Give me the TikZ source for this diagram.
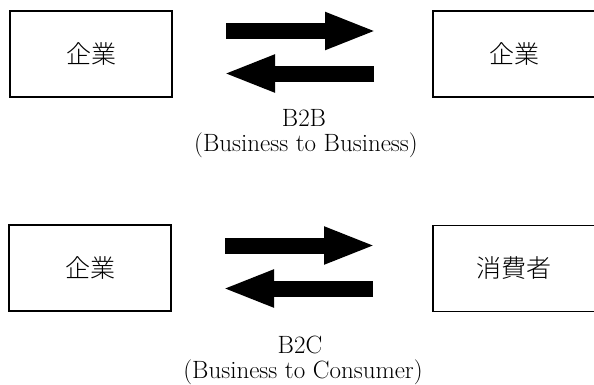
\documentclass[tikz,border=0pt]{standalone}
\usepackage{fontspec}
\newfontfamily\jp{Noto Sans CJK JP Light}
\usetikzlibrary{arrows.meta}
\tikzset{
  entity/.style={draw=black, line width=1.3pt, minimum width=162pt, minimum height=86pt, inner sep=0pt, font=\jp\fontsize{25}{29}\selectfont},
  bigarrow/.style={line width=16pt, -{Triangle[length=52pt,width=34pt]}},
  caption/.style={inner sep=0pt, font=\fontsize{25}{29}\selectfont}
}
\begin{document}
\begin{tikzpicture}[x=1pt,y=-1pt]
\useasboundingbox (0,0) rectangle (594,384);
% top row
\node[entity] (b1) at (91,54) {企業};
\node[entity] (b2) at (514,54) {企業};
\coordinate (t1s) at (226,31);
\coordinate (t1e) at (377,31);
\coordinate (t2s) at (374,73.5);
\coordinate (t2e) at (223,73.5);
\draw[bigarrow] (t1s) -- (t1e);
\draw[bigarrow] (t2s) -- (t2e);
\node[caption] (l1) at (304,118) {B2B};
\node[caption] (l2) at (306,145) {(Business to Business)};
% bottom row
\node[entity] (c1) at (90,268) {企業};
\node[entity] (c2) at (514,268.5) {消費者};
\coordinate (u1s) at (225,245.5);
\coordinate (u1e) at (376,245.5);
\coordinate (u2s) at (373,288.5);
\coordinate (u2e) at (222,288.5);
\draw[bigarrow] (u1s) -- (u1e);
\draw[bigarrow] (u2s) -- (u2e);
\node[caption] (m1) at (300,345) {B2C};
\node[caption] (m2) at (303,372) {(Business to Consumer)};
\end{tikzpicture}
\end{document}
